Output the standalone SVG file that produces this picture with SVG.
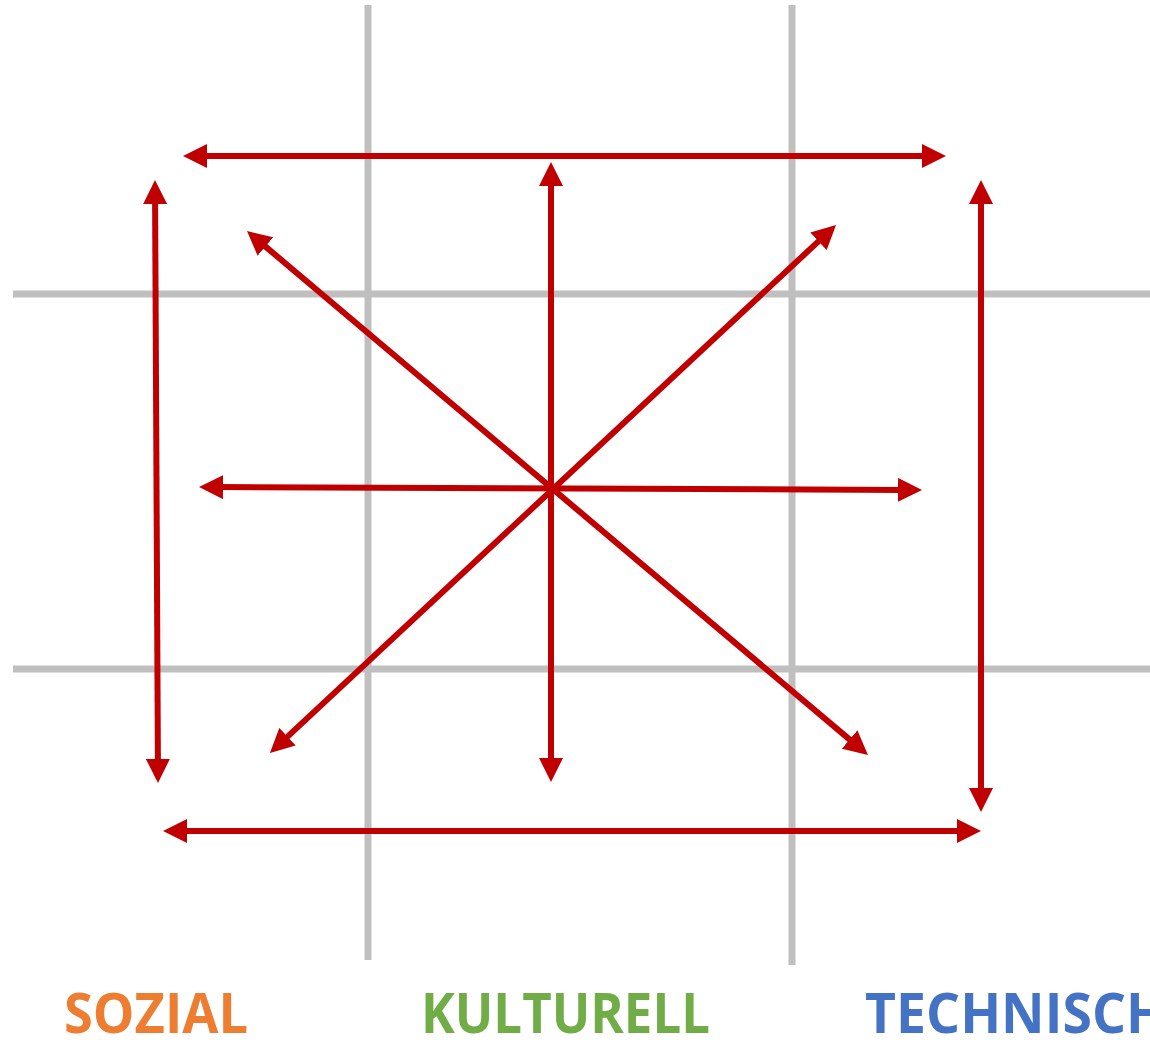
<svg xmlns="http://www.w3.org/2000/svg" width="1150" height="1040" viewBox="0 0 1150 1040">
<style>
.grid{stroke:#BFBFBF;stroke-width:7;fill:none}
.arr{stroke:#C00000;stroke-width:6;fill:none;marker-start:url(#ah);marker-end:url(#ah)}
.lbl{font-family:"Open Sans","Liberation Sans",sans-serif;font-weight:bold;font-size:56px}
</style>
<defs>
<marker id="ah" markerUnits="userSpaceOnUse" markerWidth="24" markerHeight="24" refX="4" refY="12" orient="auto-start-reverse" viewBox="0 0 24 24">
<path d="M0,0 L24,12 L0,24 z" fill="#C00000"/>
</marker>
</defs>
<rect width="1150" height="1040" fill="#fff"/>
<g id="grid">
<line class="grid" x1="368" y1="5" x2="368" y2="960"/>
<line class="grid" x1="792" y1="5" x2="792" y2="965"/>
<line class="grid" x1="13" y1="294" x2="1150" y2="294"/>
<line class="grid" x1="13" y1="669" x2="1150" y2="669"/>
</g>
<g id="connectors">
<line class="arr" x1="203" y1="156" x2="926" y2="156"/>
<line class="arr" x1="155.1" y1="200" x2="157.9" y2="763"/>
<line class="arr" x1="981" y1="200" x2="981" y2="792"/>
<line class="arr" x1="183" y1="831" x2="961" y2="831"/>
<line class="arr" x1="551" y1="182" x2="551" y2="762"/>
<line class="arr" x1="219" y1="487.1" x2="902" y2="489.9"/>
<line class="arr" x1="262.3" y1="243.9" x2="852.7" y2="742.1"/>
<line class="arr" x1="821.4" y1="238.6" x2="284.6" y2="739.4"/>
</g>
<g id="label-sozial"><text class="lbl" x="64" y="1033" fill="#ED7D31" textLength="184" lengthAdjust="spacingAndGlyphs">SOZIAL</text></g>
<g id="label-kulturell"><text class="lbl" x="421" y="1033" fill="#70AD47" textLength="289" lengthAdjust="spacingAndGlyphs">KULTURELL</text></g>
<g id="label-technisch"><text class="lbl" x="865" y="1033" fill="#4472C4" textLength="302" lengthAdjust="spacingAndGlyphs">TECHNISCH</text></g>
</svg>
